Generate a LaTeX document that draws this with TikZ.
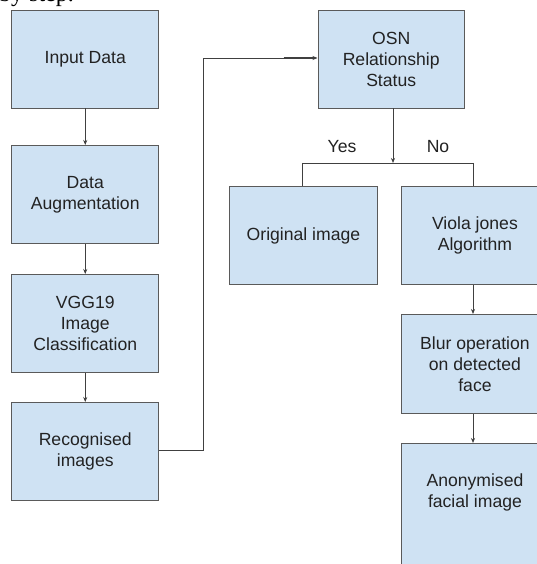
\documentclass[tikz,border=0pt]{standalone}
\usepackage{fontspec}
\setmainfont{Liberation Sans}
\newfontfamily\seriffont{Liberation Serif}
\usetikzlibrary{arrows.meta}
\definecolor{boxfill}{HTML}{CFE2F3}
\definecolor{boxline}{HTML}{5A5A5A}
\definecolor{arrowc}{HTML}{404040}
\definecolor{txt}{HTML}{222222}
\begin{document}
\begin{tikzpicture}[x=1pt,y=-1pt,
  box/.style={draw=boxline, fill=boxfill, line width=0.9pt, minimum width=147pt,
    minimum height=98pt, anchor=north west, align=center, inner sep=0pt,
    font=\fontsize{17.6}{21}\selectfont, text=txt},
  conn/.style={draw=arrowc, line width=0.8pt},
  arr/.style={conn, -{Stealth[length=5pt,width=4pt]}},
  lbl/.style={font=\fontsize{17.6}{21}\selectfont, text=txt}]
\useasboundingbox (0,0) rectangle (537,564);
\clip (0,0) rectangle (537,564);
\fill[white] (0,0) rectangle (537,564);

% partial caption line above the figure (cut off by the top edge, as in the reference)
\node[anchor=base west, inner sep=0pt, font=\seriffont\fontsize{24}{28}\selectfont] (cap) at (-1,2) {by step.};

% left column
\node[box] (in)  at (11.3,9.6)  {Input Data};
\node[box] (aug) at (11.3,145)  {Data\\Augmentation};
\node[box] (vgg) at (11.3,274)  {VGG19\\Image\\Classification};
\node[box] (rec) at (11.3,402)  {Recognised\\images};

% right part
\node[box, minimum width=146.5pt] (osn) at (317.5,9.6) {OSN\\Relationship\\Status};
\node[box, minimum width=148pt] (orig) at (229,186) {Original image};
\node[box] (viola) at (401,186) {Viola jones\\Algorithm};
\node[box, minimum height=99pt] (blur) at (401,314) {Blur operation\\on detected\\face};
\draw[draw=boxline, fill=boxfill, line width=0.9pt] (401,443) rectangle (548,580);
\node[box, draw=none, fill=none] (anon) at (401,443) {Anonymised\\facial image};

% connectors left column
\draw[arr] (in) -- (aug);
\draw[arr] (aug) -- (vgg);
\draw[arr] (vgg) -- (rec);

% recognised -> OSN
\coordinate (c1) at (203,450);
\coordinate (c2) at (203,58);
\coordinate (c3) at (283.5,58);
\draw[conn] (rec.east |- c1) -- (c1) -- (c2) -- (c3);
\draw[arr, line width=1.4pt] (c3) -- (osn.west |- c3);

% OSN branch
\coordinate (br) at (393,163);
\coordinate (bl) at (302,163);
\coordinate (brr) at (473,163);
\draw[arr] (osn.south -| br) -- (br);
\draw[conn] (bl) -- (brr);
\draw[conn] (bl) -- (bl |- orig.north);
\draw[conn] (brr) -- (brr |- viola.north);
\node[lbl] (yes) at (342,147) {Yes};
\node[lbl] (no) at (438,147) {No};

% right column
\draw[arr] (viola.south -| brr) -- (blur.north -| brr);
\draw[arr] (blur.south -| brr) -- (anon.north -| brr);
\end{tikzpicture}
\end{document}
